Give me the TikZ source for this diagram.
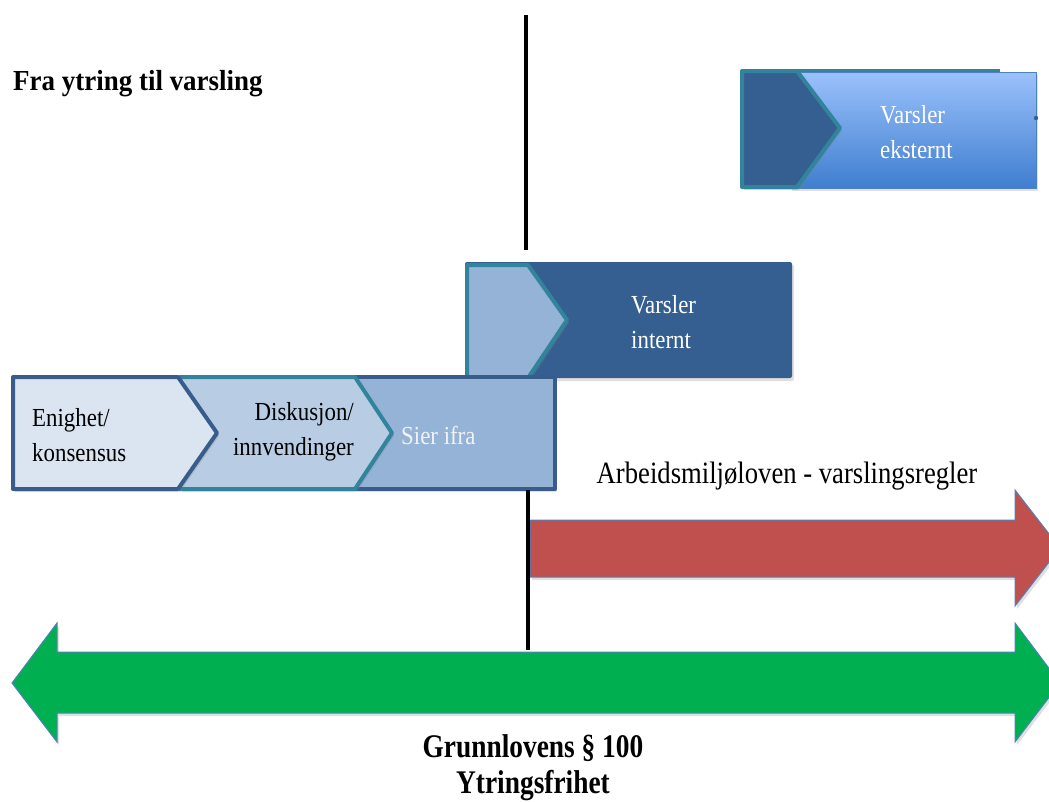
\documentclass[tikz,border=0pt]{standalone}
\usepackage{fontspec}
\setmainfont{Liberation Serif}
\newfontfamily\titlefont[FakeStretch=0.93]{Liberation Serif}
\newfontfamily\lawfont[FakeStretch=0.83]{Liberation Serif}
\newfontfamily\amlfont[FakeStretch=0.86]{Liberation Serif}
\newfontfamily\boxfont[FakeStretch=0.88]{Liberation Serif}
\usetikzlibrary{shadows}
\definecolor{dkblue}{HTML}{385D8A}
\definecolor{midblue}{HTML}{365F91}
\definecolor{tealb}{HTML}{31849B}
\definecolor{pale}{HTML}{DBE5F1}
\definecolor{light}{HTML}{B8CCE4}
\definecolor{steel}{HTML}{95B3D7}
\definecolor{gradtop}{HTML}{9BC1FB}
\definecolor{gradbot}{HTML}{3F7ECF}
\definecolor{arrowedge}{HTML}{4F81BD}
\definecolor{redarrow}{HTML}{C0504D}
\definecolor{greenarrow}{HTML}{00B050}
\tikzset{
  shad/.style={drop shadow={opacity=0.25, shadow xshift=2pt, shadow yshift=-3pt}},
  chevbox/.style={line width=4pt, line join=round, shad},
  boxtext/.style={font=\boxfont\fontsize{26}{35}\selectfont, align=left, inner sep=0pt},
  bigarrow/.style={draw=arrowedge, line width=1pt, line join=miter, shad},
  timeline/.style={line width=4pt, black},
}
\begin{document}
\begin{tikzpicture}[x=1pt,y=-1pt]
\useasboundingbox (0,0) rectangle (1049,801);

% title
\node[anchor=base west, inner sep=0pt, font=\titlefont\bfseries\fontsize{29}{30}\selectfont] (title) at (13,90) {Fra ytring til varsling};

% Varsler eksternt
\draw[tealb, line width=3pt] (741,70) -- (1000,70);
\draw[shad, draw=arrowedge, line width=0.8pt, top color=gradtop, bottom color=gradbot] (790,72) rectangle (1036,188);
\draw[chevbox, fill=midblue, draw=tealb] (742,71) -- (797,71) -- (840,128) -- (797,187) -- (742,187) -- cycle;
\fill[midblue] (1036,118) circle (2.2pt);
\node[boxtext, text=white, anchor=west] (ext) at (880,132) {Varsler\\eksternt};

% Varsler internt
\fill[midblue, rounded corners=2pt, shad] (465,262) rectangle (792,378);
\draw[chevbox, fill=steel, draw=tealb] (467,265) -- (528,265) -- (567,320) -- (528,378) -- (467,378) -- cycle;
\node[boxtext, text=white, anchor=west] (int) at (631,322) {Varsler\\internt};

% bottom row of chevrons
\draw[chevbox, fill=steel, draw=dkblue] (355,377) rectangle (555,489);
\draw[chevbox, fill=light, draw=tealb] (180,377) -- (355,377) -- (392,433) -- (355,489) -- (180,489) -- cycle;
\draw[chevbox, fill=pale, draw=dkblue] (13,377) -- (178,377) -- (217,433) -- (178,489) -- (13,489) -- cycle;
\node[boxtext, anchor=west] (enighet) at (32,435) {Enighet/\\konsensus};
\node[boxtext, anchor=east, align=right] (disk) at (354,432) {Diskusjon/\\innvendinger};
\node[boxtext, anchor=west, text=white!95!black] (sier) at (401,435) {Sier ifra};

% vertical time line
\coordinate (lineTop) at (526,15);
\coordinate (lineMid) at (526,250);
\coordinate (lineLow) at (528,490);
\coordinate (lineBot) at (528,650);
\draw[timeline] (lineTop) -- (lineMid);

% red arrow
\draw[bigarrow, fill=redarrow] (530,520) -- (1015,520) -- (1015,490) -- (1060,548) -- (1015,606) -- (1015,577) -- (530,577) -- cycle;
\node[anchor=base, inner sep=0pt, font=\amlfont\fontsize{31}{34}\selectfont] (aml) at (787,483) {Arbeidsmiljøloven - varslingsregler};

% green double arrow
\draw[bigarrow, fill=greenarrow] (12,683) -- (57,623) -- (57,652) -- (1015,652) -- (1015,623) -- (1060,683) -- (1015,742) -- (1015,713) -- (57,713) -- (57,742) -- cycle;
\draw[timeline] (lineLow) -- (lineBot);

\node[anchor=center, inner sep=0pt, align=center, font=\lawfont\bfseries\fontsize{33}{36}\selectfont] (law) at (533,768) {Grunnlovens § 100\\Ytringsfrihet};
\end{tikzpicture}
\end{document}
